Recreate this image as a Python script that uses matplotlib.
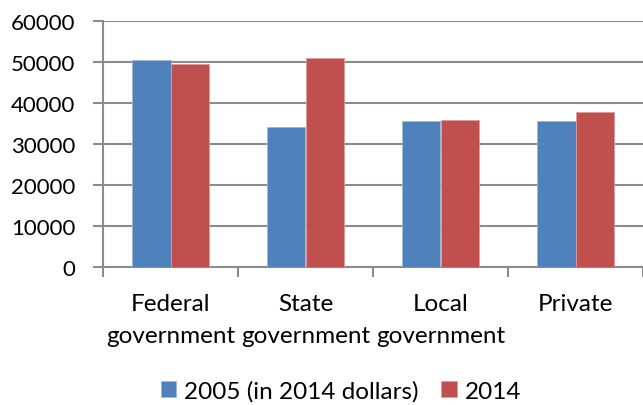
import matplotlib
matplotlib.use("Agg")
import matplotlib.pyplot as plt
import numpy as np

categories = ["Federal\ngovernment", "State\ngovernment", "Local\ngovernment", "Private"]
series_2005 = [50500, 34200, 35700, 35600]
series_2014 = [49400, 51000, 35900, 37800]
series_names = ["2005 (in 2014 dollars)", "2014"]
yticks = [0, 10000, 20000, 30000, 40000, 50000, 60000]

plt.rcParams['font.family'] = ['Lato', 'DejaVu Sans']

fig = plt.figure(figsize=(6.43, 4.06), dpi=100)
ax = fig.add_axes([103/643, 1-268/406, 1-103/643, (268-22)/406])

x = np.arange(len(categories))
w = 0.285
blue = "#4F81BD"
red = "#C0504D"
ax.bar(x - w/2, series_2005, w, color=blue, edgecolor="#9fb8d8", linewidth=0.6, label=series_names[0], zorder=3)
ax.bar(x + w/2, series_2014, w, color=red, edgecolor="#e09a98", linewidth=0.6, label=series_names[1], zorder=3)

fs = 17.5
ax.set_xlim(-0.5, 3.5)
ax.set_ylim(0, 60000)
ax.set_yticks(yticks)
ax.set_yticklabels([str(v) for v in yticks], fontsize=16)
ax.yaxis.grid(True, color="#8c8c8c", linewidth=1.5, zorder=0)
ax.set_axisbelow(True)

ax.set_xticks(x)
ax.set_xticklabels(categories, fontsize=fs, linespacing=1.65)
ax.tick_params(axis='x', which='major', length=0, pad=19)
ax.set_xticks(np.arange(-0.5, 3.6, 1.0), minor=True)
ax.tick_params(axis='x', which='minor', length=7, width=1.5, color="#8c8c8c")
ax.tick_params(axis='y', length=7, width=1.5, color="#8c8c8c", pad=13)

for s in ["top", "right"]:
    ax.spines[s].set_visible(False)
for s in ["left", "bottom"]:
    ax.spines[s].set_color("#8c8c8c")
    ax.spines[s].set_linewidth(1.5)

leg = fig.legend(loc="center", bbox_to_anchor=(0.53, 1-392/406), ncol=2, frameon=False,
                 fontsize=fs, handlelength=0.65, handleheight=0.65, handletextpad=0.3,
                 columnspacing=0.95)

fig.savefig("out.png", dpi=100)
